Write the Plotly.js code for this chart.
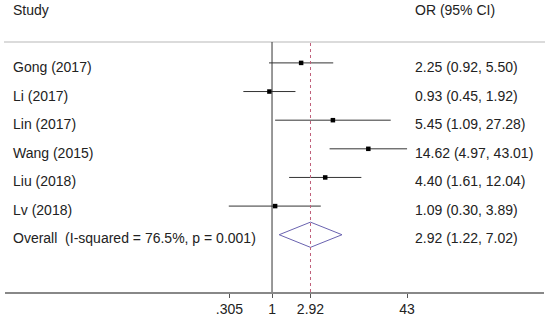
<!DOCTYPE html>
<html>
<head>
<meta charset="utf-8">
<script src="https://cdn.plot.ly/plotly-3.0.1.min.js"></script>
<style>html,body{margin:0;padding:0;background:#fff;}#chart{width:548px;height:318px;}</style>
</head>
<body>
<div id="chart"></div>
<script>
// Data
const studies = ["Gong (2017)", "Li (2017)", "Lin (2017)", "Wang (2015)", "Liu (2018)", "Lv (2018)"];
const orValues = [2.25, 0.93, 5.45, 14.62, 4.40, 1.09];
const ciLower = [0.92, 0.45, 1.09, 4.97, 1.61, 0.30];
const ciUpper = [5.50, 1.92, 27.28, 43.01, 12.04, 3.89];
const overallLabel = "Overall  (I-squared = 76.5%, p = 0.001)";
const overallOR = 2.92;
const overallLower = 1.22;
const overallUpper = 7.02;
const nullValue = 1;
const tickValues = [0.305, 1, 2.92, 43];
const tickLabels = [".305", "1", "2.92", "43"];

const W = 548, H = 318;
const mL = 5, mR = 4, mT = 42, mB = 26;
const pw = W - mL - mR;
const fmt = v => v.toFixed(2);
const rows = studies.map((s, i) => i);
const overallRow = studies.length;
const dHalf = 0.44;

const font = {family: "Liberation Sans, Arial, sans-serif", size: 14, color: "#222"};

const traces = [
  {
    type: "scatter", mode: "markers",
    x: orValues, y: rows,
    marker: {symbol: "square", size: 4.5, color: "#000"},
    error_x: {
      type: "data", symmetric: false,
      array: orValues.map((v, i) => ciUpper[i] - v),
      arrayminus: orValues.map((v, i) => v - ciLower[i]),
      width: 0, thickness: 1, color: "#333"
    },
    hoverinfo: "skip", showlegend: false
  },
  {
    type: "scatter", mode: "lines",
    x: [overallLower, overallOR, overallUpper, overallOR, overallLower],
    y: [overallRow, overallRow - dHalf, overallRow, overallRow + dHalf, overallRow],
    line: {color: "#6a63b0", width: 1},
    hoverinfo: "skip", showlegend: false
  }
];

const px = p => (p - mL) / pw;
const annotations = [];
annotations.push({xref: "paper", yref: "paper", x: px(11), y: 1 + (mT - 10) / (H - mT - mB), text: "Study", showarrow: false, xanchor: "left", yanchor: "middle", font});
annotations.push({xref: "paper", yref: "paper", x: px(413), y: 1 + (mT - 10) / (H - mT - mB), text: "OR (95% CI)", showarrow: false, xanchor: "left", yanchor: "middle", font});
studies.forEach((s, i) => {
  annotations.push({xref: "paper", yref: "y", x: px(11), y: i, yshift: -4, text: s, showarrow: false, xanchor: "left", yanchor: "middle", font});
  annotations.push({xref: "paper", yref: "y", x: px(413), y: i, yshift: -4, text: fmt(orValues[i]) + " (" + fmt(ciLower[i]) + ", " + fmt(ciUpper[i]) + ")", showarrow: false, xanchor: "left", yanchor: "middle", font});
});
annotations.push({xref: "paper", yref: "y", x: px(11), y: overallRow, yshift: -3, text: overallLabel, showarrow: false, xanchor: "left", yanchor: "middle", font});
annotations.push({xref: "paper", yref: "y", x: px(413), y: overallRow, yshift: -3, text: fmt(overallOR) + " (" + fmt(overallLower) + ", " + fmt(overallUpper) + ")", showarrow: false, xanchor: "left", yanchor: "middle", font});

const shapes = [
  {type: "line", xref: "paper", yref: "paper", x0: px(4), x1: px(545), y0: 1, y1: 1, line: {color: "#cfcfcf", width: 1.5}},
  {type: "line", xref: "x", yref: "paper", x0: nullValue, x1: nullValue, y0: 0, y1: 1, line: {color: "#333", width: 1}},
  {type: "line", xref: "x", yref: "paper", x0: overallOR, x1: overallOR, y0: 0, y1: 1, line: {color: "#c0607a", width: 1, dash: "3px,3px"}}
];

const layout = {
  width: W, height: H,
  margin: {l: mL, r: mR, t: mT, b: mB, pad: 0},
  paper_bgcolor: "#fff", plot_bgcolor: "#fff",
  font,
  xaxis: {
    type: "log", range: [-3.23, 3.29],
    tickvals: tickValues, ticktext: tickLabels,
    ticks: "outside", ticklen: 4, tickcolor: "#555", tickwidth: 1,
    showgrid: false, zeroline: false,
    showline: true, linecolor: "#888", linewidth: 1.5,
    tickfont: font, fixedrange: true
  },
  yaxis: {
    range: [8.0, -0.73], showticklabels: false, showgrid: false,
    zeroline: false, showline: false, ticks: "", fixedrange: true
  },
  shapes, annotations
};

Plotly.newPlot("chart", traces, layout, {staticPlot: true, displayModeBar: false});
</script>
</body>
</html>
